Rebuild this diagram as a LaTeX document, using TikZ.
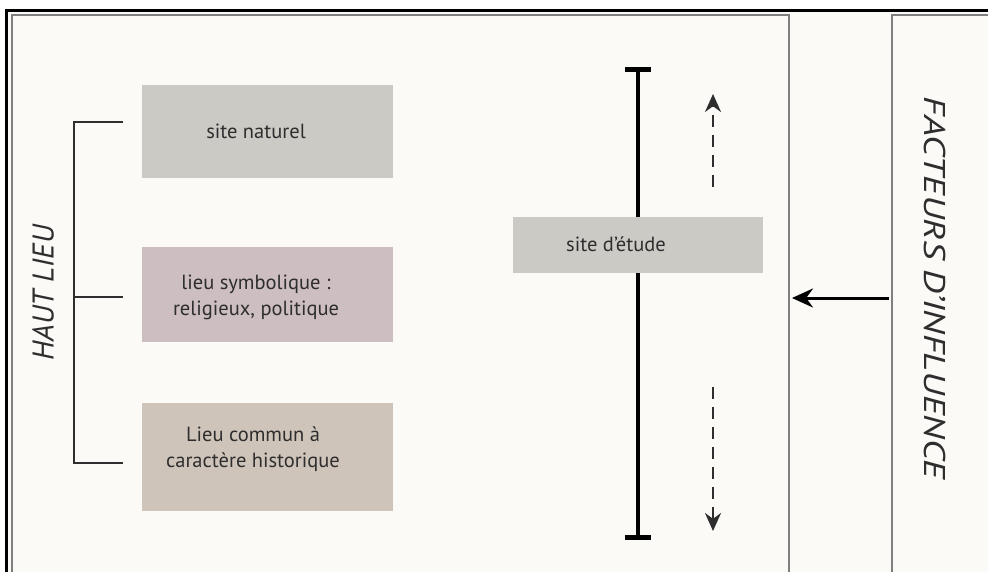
\documentclass[tikz,border=0pt]{standalone}
\usepackage{fontspec}
\setmainfont{PT Sans}
\usetikzlibrary{arrows.meta}
\definecolor{paper}{HTML}{FBFAF7}
\definecolor{frame}{HTML}{7F7F7F}
\definecolor{boxgrey}{HTML}{CCCAC5}
\definecolor{boxpink}{HTML}{CDBEC1}
\definecolor{boxbrown}{HTML}{CFC4BA}
\definecolor{ink}{HTML}{2E2E2E}
\tikzset{
  panel/.style={draw=frame, line width=2pt, fill=paper},
  box/.style={draw=none, inner sep=0pt},
  txt/.style={text=ink, font=\fontsize{20.5}{26}\selectfont, align=center, inner sep=0pt},
  bigtxt/.style={text=ink, font=\fontsize{30}{36}\selectfont\itshape, inner sep=0pt},
  brack/.style={draw=ink, line width=2pt},
  dasharrow/.style={draw=ink, line width=2.4pt, dash pattern=on 12pt off 8pt, -{Stealth[length=18pt,width=16pt]}},
  solidarrow/.style={draw=black, line width=3pt, -{Stealth[length=21pt,width=19pt]}},
  barline/.style={draw=black, line width=4.5pt, {Bar[width=26pt,line width=5.5pt]}-{Bar[width=26pt,line width=5.5pt]}}
}
\begin{document}
\begin{tikzpicture}[x=1pt,y=-1pt]
\useasboundingbox (0,0) rectangle (988,572);
\fill[white] (0,0) rectangle (988,572);
\fill[paper] (6,11) rectangle (988,572);
% panels
\filldraw[panel] (12,575) -- (12,15) -- (789,15) -- (789,575);
\filldraw[panel] (892,575) -- (892,15) -- (992,15);
% outer black frame
\draw[black, line width=3pt] (6,575) -- (6,11) -- (990,11);
% bracket
\coordinate (bk1) at (74,122);
\coordinate (bk2) at (74,297);
\coordinate (bk3) at (74,463);
\coordinate (tk1) at (123,122);
\coordinate (tk2) at (123,297);
\coordinate (tk3) at (123,463);
\draw[brack] (tk1) -- (bk1) -- (bk3) -- (tk3);
\draw[brack] (bk2) -- (tk2);
% boxes
\node[box, fill=boxgrey, minimum width=251pt, minimum height=93pt] (b1) at (267.5,131.5) {};
\node[txt] (t1) at (256,131) {site naturel};
\node[box, fill=boxpink, minimum width=251pt, minimum height=95pt] (b2) at (267.5,294.5) {};
\node[txt] (t2) at (256,297) {lieu symbolique :\\religieux, politique};
\node[box, fill=boxbrown, minimum width=251pt, minimum height=108pt] (b3) at (267.5,457) {};
\node[txt] (t3) at (253,449) {Lieu commun à\\caractère historique};
% vertical bar
\coordinate (vt) at (638,67);
\coordinate (vb) at (638,540);
\draw[barline] (vt) -- (vb);
\node[box, fill=boxgrey, minimum width=250pt, minimum height=56pt] (sd) at (638,245) {};
\node[txt] (tsd) at (616,244) {site d’étude};
% dashed arrows
\coordinate (u1) at (713,187);
\coordinate (u2) at (713,94);
\coordinate (d1) at (713,387);
\coordinate (d2) at (713,531);
\draw[dasharrow] (u1) -- (u2);
\draw[dasharrow] (d1) -- (d2);
% influence arrow
\coordinate (a1) at (889,298);
\coordinate (a2) at (792,298);
\draw[solidarrow] (a1) -- (a2);
% vertical titles
\node[bigtxt, rotate=90] (hl) at (43,293) {HAUT LIEU};
\node[bigtxt, rotate=-90] (fi) at (935,288) {\scalebox{1.27}[1]{FACTEURS D’INFLUENCE}};
\end{tikzpicture}
\end{document}
